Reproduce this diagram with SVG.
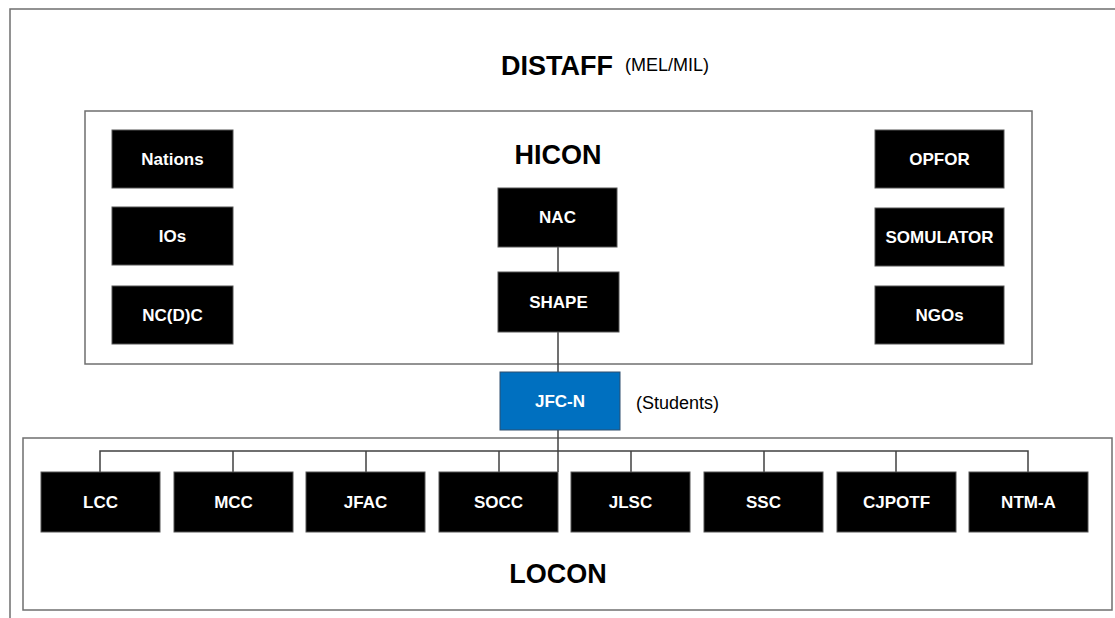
<svg xmlns="http://www.w3.org/2000/svg" width="1115" height="618" viewBox="0 0 1115 618">
<defs>
<style>
.frame{fill:none;stroke:#6f6f6f;stroke-width:1.5}
.box{fill:#000;stroke:#555;stroke-width:1}
.blue{fill:#0070C0;stroke:#2f4f6f;stroke-width:1}
.lbl{fill:#fff;font-family:"Liberation Sans",Arial,sans-serif;font-weight:bold;font-size:17px;text-anchor:middle;dominant-baseline:central}
.title{fill:#000;font-family:"Liberation Sans",Arial,sans-serif;font-weight:bold;font-size:27px;text-anchor:middle}
.note{fill:#000;font-family:"Liberation Sans",Arial,sans-serif;font-size:18px}
.conn{fill:none;stroke:#404040;stroke-width:1.5}
</style>
</defs>
<rect width="1115" height="618" fill="#fff"/>
<g id="distaff">
<rect class="frame" x="10" y="9" width="1120" height="620"/>
<text class="title" x="557" y="75">DISTAFF</text>
<text class="note" x="625" y="71">(MEL/MIL)</text>
</g>
<g id="hicon">
<rect class="frame" x="85" y="111" width="947" height="253"/>
<text class="title" x="558" y="164">HICON</text>
</g>
<g id="locon">
<rect class="frame" x="23" y="438" width="1089" height="172"/>
<text class="title" x="558" y="583">LOCON</text>
</g>
<g id="connectors">
<line class="conn" x1="558" y1="247" x2="558" y2="272"/>
<line class="conn" x1="558" y1="332" x2="558" y2="372"/>
<line class="conn" x1="558" y1="430" x2="558" y2="472"/>
<polyline class="conn" points="100,472 100,451 1028,451 1028,472"/>
<line class="conn" x1="233" y1="451" x2="233" y2="472"/>
<line class="conn" x1="366" y1="451" x2="366" y2="472"/>
<line class="conn" x1="499" y1="451" x2="499" y2="472"/>
<line class="conn" x1="631" y1="451" x2="631" y2="472"/>
<line class="conn" x1="764" y1="451" x2="764" y2="472"/>
<line class="conn" x1="896" y1="451" x2="896" y2="472"/>
</g>
<g id="nations"><rect class="box" x="112" y="130" width="121" height="58"/><text class="lbl" x="172.5" y="159">Nations</text></g>
<g id="ios"><rect class="box" x="112" y="207" width="121" height="58"/><text class="lbl" x="172.5" y="236">IOs</text></g>
<g id="ncdc"><rect class="box" x="112" y="286" width="121" height="58"/><text class="lbl" x="172.5" y="315">NC(D)C</text></g>
<g id="opfor"><rect class="box" x="875" y="130" width="129" height="58"/><text class="lbl" x="939.5" y="159">OPFOR</text></g>
<g id="somulator"><rect class="box" x="875" y="208" width="129" height="58"/><text class="lbl" x="939.5" y="237">SOMULATOR</text></g>
<g id="ngos"><rect class="box" x="875" y="286" width="129" height="58"/><text class="lbl" x="939.5" y="315">NGOs</text></g>
<g id="nac"><rect class="box" x="498" y="188" width="119" height="59"/><text class="lbl" x="557.5" y="217.5">NAC</text></g>
<g id="shape"><rect class="box" x="498" y="272" width="121" height="60"/><text class="lbl" x="558.5" y="302">SHAPE</text></g>
<g id="jfcn"><rect class="blue" x="500" y="372" width="120" height="58"/><text class="lbl" x="560" y="401">JFC-N</text><text class="note" x="636" y="409">(Students)</text></g>
<g id="lcc"><rect class="box" x="41" y="472" width="119" height="60"/><text class="lbl" x="100.5" y="502">LCC</text></g>
<g id="mcc"><rect class="box" x="174" y="472" width="119" height="60"/><text class="lbl" x="233.5" y="502">MCC</text></g>
<g id="jfac"><rect class="box" x="306" y="472" width="119" height="60"/><text class="lbl" x="365.5" y="502">JFAC</text></g>
<g id="socc"><rect class="box" x="439" y="472" width="119" height="60"/><text class="lbl" x="498.5" y="502">SOCC</text></g>
<g id="jlsc"><rect class="box" x="571" y="472" width="119" height="60"/><text class="lbl" x="630.5" y="502">JLSC</text></g>
<g id="ssc"><rect class="box" x="704" y="472" width="119" height="60"/><text class="lbl" x="763.5" y="502">SSC</text></g>
<g id="cjpotf"><rect class="box" x="837" y="472" width="119" height="60"/><text class="lbl" x="896.5" y="502">CJPOTF</text></g>
<g id="ntma"><rect class="box" x="969" y="472" width="119" height="60"/><text class="lbl" x="1028.5" y="502">NTM-A</text></g>
</svg>
